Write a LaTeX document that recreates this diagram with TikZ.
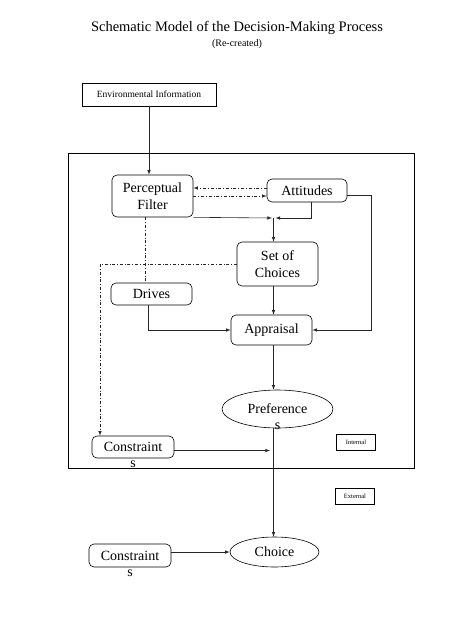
\documentclass[tikz,border=0pt]{standalone}
\usepackage{fontspec}
\setmainfont{Liberation Serif}
\usetikzlibrary{positioning,shapes}

\begin{document}
\begin{tikzpicture}[>=latex, x=1pt, y=-1pt]

    %
    % Styles for stages, and stage flows
    %
    \tikzstyle{stage} = [draw, rectangle, rounded corners=5pt, line width=0.6pt, align=center,
                         fill=white, minimum height=23pt, minimum width=81pt,
                         font={\fontsize{14}{17}\selectfont}, text=black, inner sep=1pt]
    \tikzstyle{outcome} = [stage, ellipse, rounded corners=0pt];
    \tikzstyle{tag} = [draw, rectangle, line width=0.6pt, minimum height=16pt, minimum width=39pt,
                       font={\fontsize{6.5}{7}\selectfont}, inner sep=1pt];
    \tikzstyle{mainFlow} = [black!85, line width=0.6pt, ->];
    \tikzstyle{infoFlow} = [black!85, line width=0.6pt, dash dot];

    \useasboundingbox (0,0) rectangle (474,622);

    %
    % Heading
    %
    \node[name=title, font={\fontsize{14.5}{17}\selectfont}] at (237,28)
      {Schematic Model of the Decision-Making Process};
    \node[name=subtitle, font={\fontsize{10}{12}\selectfont}] at (237,44) {(Re-created)};

    %
    % Position stages
    %
    \node[draw, rectangle, line width=0.6pt, name=environment, minimum width=134pt, minimum height=23pt,
          font={\fontsize{9.5}{11}\selectfont}] at (149,94.5) {Environmental Information};
    \node[draw, rectangle, line width=0.6pt, name=frame, minimum width=346pt, minimum height=315pt]
      at (241,310.5) {};

    \node[stage, name=filter, minimum height=42pt] at (152.5,196) {Perceptual\\Filter};
    \node[stage, name=attitudes, minimum width=80pt] at (307,190.5) {Attitudes};
    \node[stage, name=choices, minimum height=44pt] at (277.5,264) {Set of\\Choices};
    \node[stage, name=drives, minimum height=22pt] at (151.5,294) {Drives};
    \node[stage, name=appraisal, minimum height=30pt] at (271.5,330) {Appraisal};
    \node[outcome, name=preference, minimum width=111pt, minimum height=38pt,
          label={[label distance=-9pt, font={\fontsize{14}{17}\selectfont}]below:s}]
      at (277.5,409) {Preference};
    \node[stage, name=innerLimits, minimum width=82pt, minimum height=22pt,
          label={[label distance=-1pt, font={\fontsize{14}{17}\selectfont}]below:s}]
      at (133,447) {Constraint};
    \node[tag, name=internal] at (356,442) {Internal};
    \node[tag, name=external] at (355,496) {External};
    \node[outcome, name=choice, minimum width=89pt, minimum height=30pt] at (274.5,552) {Choice};
    \node[stage, name=outerLimits, minimum width=82pt,
          label={[label distance=-1pt, font={\fontsize{14}{17}\selectfont}]below:s}]
      at (130,555.5) {Constraint};

    \coordinate (merge) at (273.5,218);
    \coordinate (attRight) at (371,195);
    \coordinate (leftTurn) at (100,264);

    %
    % Connect stages via flows
    %
    \draw[mainFlow] (environment.south) -- (environment.south |- filter.north);

    \draw[infoFlow, ->] ([yshift=2.5pt]attitudes.west) -- ([yshift=2.5pt]attitudes.west -| filter.east);
    \draw[infoFlow, ->] ([yshift=-5.5pt]attitudes.west -| filter.east) -- ([yshift=-5.5pt]attitudes.west);

    \draw[mainFlow] (filter.south east) -- ([xshift=-1.5pt]merge);
    \draw[mainFlow] ([xshift=4pt]attitudes.south) |- ([xshift=2pt]merge);
    \draw[mainFlow] (merge) -- (merge |- choices.north);
    \draw[mainFlow] (merge |- choices.south) -- (merge |- appraisal.north);

    \draw[mainFlow] ([xshift=-3.5pt]drives.south) |- (appraisal.west);
    \draw[mainFlow] ([yshift=-4.5pt]attitudes.east) -- (attRight) |- (appraisal.east);

    \draw[infoFlow] ([xshift=-7.5pt]filter.south) -- ([xshift=-7.5pt]filter.south |- drives.north);
    \draw[infoFlow, ->] (choices.west) -- (leftTurn) -- (leftTurn |- innerLimits.north);

    \draw[mainFlow] (merge |- appraisal.south) -- (merge |- preference.north);
    \draw[mainFlow] (merge |- preference.south) -- (merge |- choice.north);

    \draw[mainFlow, shorten >=3.5pt] ([yshift=-3.5pt]innerLimits.east) -- ([yshift=-3.5pt]innerLimits.east -| merge);
    \draw[mainFlow] (outerLimits.east |- choice.west) -- (choice.west);
  \end{tikzpicture}
\end{document}
